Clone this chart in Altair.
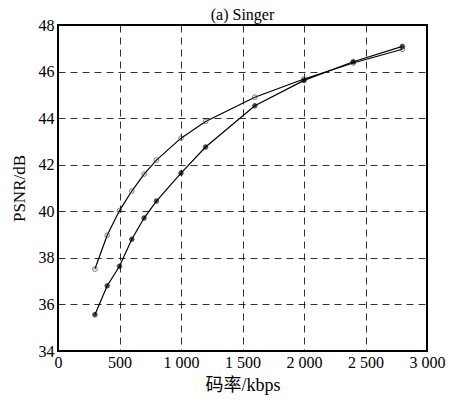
import altair as alt
import pandas as pd

rates = [300, 400, 500, 600, 700, 800, 1000, 1200, 1600, 2000, 2400, 2800]
psnr_circle = [37.52, 38.97, 40.03, 40.87, 41.6, 42.2, 43.14, 43.86, 44.9, 45.68, 46.37, 46.96]
psnr_star = [35.56, 36.8, 37.64, 38.8, 39.71, 40.44, 41.64, 42.76, 44.53, 45.62, 46.42, 47.08]

df_c = pd.DataFrame({"rate": rates, "psnr": psnr_circle})
df_s = pd.DataFrame({"rate": rates, "psnr": psnr_star})

FONT = "Liberation Serif"
x = alt.X("rate:Q", scale=alt.Scale(domain=[0, 3000], nice=False),
          axis=alt.Axis(values=[0, 500, 1000, 1500, 2000, 2500, 3000],
                        labelExpr="replace(format(datum.value, ','), ',', ' ')",
                        title="码率/kbps", titleFont="Liberation Serif, Noto Sans CJK SC",
                        titleFontSize=18, titlePadding=6))
y = alt.Y("psnr:Q", scale=alt.Scale(domain=[34, 48], nice=False, zero=False),
          axis=alt.Axis(values=[34, 36, 38, 40, 42, 44, 46, 48], title="PSNR/dB",
                        titlePadding=10))

line_c = alt.Chart(df_c).mark_line(color="black", strokeWidth=1.2).encode(x=x, y=y)
pts_c = alt.Chart(df_c).mark_point(shape="circle", filled=False, color="#444", size=22,
                                   strokeWidth=1).encode(x=x, y=y)
line_s = alt.Chart(df_s).mark_line(color="black", strokeWidth=1.2).encode(x=x, y=y)
star = "M-1,0L1,0M0,-1L0,1M-0.7,-0.7L0.7,0.7M-0.7,0.7L0.7,-0.7"
pts_s = alt.Chart(df_s).mark_point(shape=star, filled=False, color="black", size=30,
                                   strokeWidth=1.6).encode(x=x, y=y)

chart = alt.layer(line_c, line_s, pts_c, pts_s).properties(
    width=369, height=326,
    title=alt.TitleParams("(a) Singer", font=FONT, fontSize=16, fontWeight="normal",
                          color="black", offset=2, dy=8),
    autosize=alt.AutoSizeParams(type="none"),
    padding={"left": 50, "top": 17, "right": 20, "bottom": 45},
).configure_view(stroke="black", strokeWidth=2).configure_axis(
    grid=True, gridColor="black", gridDash=[7, 5], gridWidth=1, gridOpacity=0.8,
    domain=False, ticks=False, labelFont=FONT, labelFontSize=16, labelColor="black",
    titleFont=FONT, titleFontSize=17, titleFontWeight="normal", titleColor="black",
    labelPadding=3,
).configure_axisY(labelPadding=4).configure_axisX(labelFlush=False).configure_title(
    font=FONT, fontSize=16, fontWeight="normal", color="black")

chart.save("out.html", embed_options={"renderer": "svg", "actions": False})
